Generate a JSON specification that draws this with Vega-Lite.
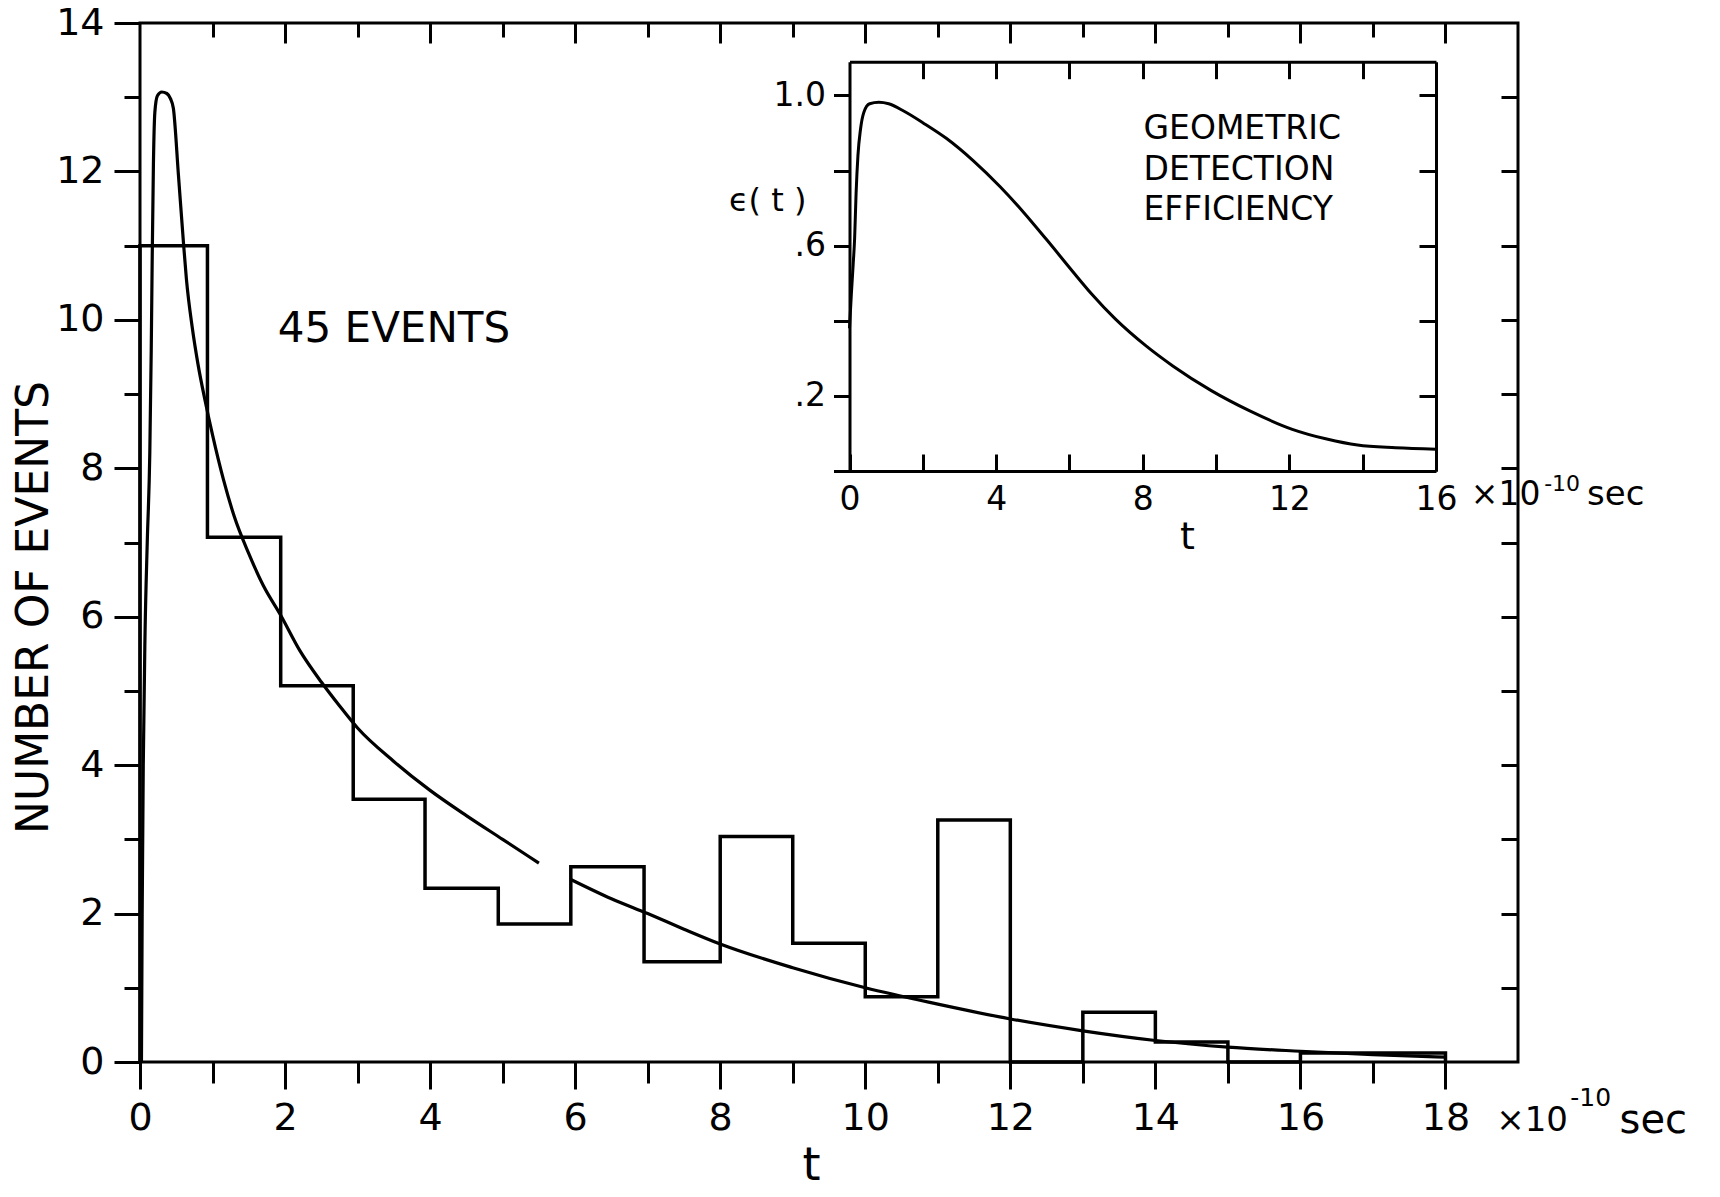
{
  "$schema": "https://vega.github.io/schema/vega-lite/v6.json",
  "width": 1378,
  "height": 1039,
  "autosize": "none",
  "padding": {"left": 140, "top": 23, "right": 202, "bottom": 135},
  "background": "white",
  "config": {
    "view": {"stroke": "black", "strokeWidth": 3},
    "font": "DejaVu Sans",
    "axis": {"grid": false, "domainColor": "black", "tickColor": "black", "labelColor": "black", "titleColor": "black", "labelFont": "DejaVu Sans", "titleFont": "DejaVu Sans", "titleFontWeight": "normal", "labelFlush": false, "labelOverlap": false, "tickWidth": 3, "domainWidth": 3},
    "text": {"font": "DejaVu Sans", "color": "black"}
  },
  "datasets": {
    "hist": [
      {"t": 0, "n": 0}, {"t": 0, "n": 11.0}, {"t": 0.93, "n": 7.07}, {"t": 1.94, "n": 5.07}, {"t": 2.94, "n": 3.54}, {"t": 3.93, "n": 2.34}, {"t": 4.94, "n": 1.86}, {"t": 5.94, "n": 2.63}, {"t": 6.95, "n": 1.35}, {"t": 8.0, "n": 3.04}, {"t": 9.0, "n": 1.6}, {"t": 10.0, "n": 0.88}, {"t": 11.0, "n": 3.26}, {"t": 12.0, "n": 0}, {"t": 13.0, "n": 0.67}, {"t": 14.0, "n": 0.27}, {"t": 15.0, "n": 0}, {"t": 16.0, "n": 0.12}, {"t": 18.0, "n": 0}
    ],
    "fit": [
      {"t": 0.02, "y": 0, "seg": "a"}, {"t": 0.03, "y": 2, "seg": "a"}, {"t": 0.045, "y": 4, "seg": "a"}, {"t": 0.07, "y": 5.8, "seg": "a"}, {"t": 0.1, "y": 7.0, "seg": "a"}, {"t": 0.135, "y": 8.2, "seg": "a"}, {"t": 0.155, "y": 9.6, "seg": "a"}, {"t": 0.168, "y": 10.8, "seg": "a"}, {"t": 0.185, "y": 12.1, "seg": "a"}, {"t": 0.205, "y": 12.8, "seg": "a"}, {"t": 0.24, "y": 13.02, "seg": "a"}, {"t": 0.3, "y": 13.07, "seg": "a"}, {"t": 0.37, "y": 13.05, "seg": "a"}, {"t": 0.42, "y": 12.98, "seg": "a"}, {"t": 0.46, "y": 12.85, "seg": "a"}, {"t": 0.53, "y": 11.95, "seg": "a"}, {"t": 0.6, "y": 11.03, "seg": "a"}, {"t": 0.64, "y": 10.55, "seg": "a"}, {"t": 0.72, "y": 9.9, "seg": "a"}, {"t": 0.8, "y": 9.4, "seg": "a"}, {"t": 0.9, "y": 8.9, "seg": "a"}, {"t": 1.0, "y": 8.45, "seg": "a"}, {"t": 1.15, "y": 7.85, "seg": "a"}, {"t": 1.3, "y": 7.35, "seg": "a"}, {"t": 1.5, "y": 6.85, "seg": "a"}, {"t": 1.7, "y": 6.42, "seg": "a"}, {"t": 1.94, "y": 6.02, "seg": "a"}, {"t": 2.2, "y": 5.55, "seg": "a"}, {"t": 2.5, "y": 5.12, "seg": "a"}, {"t": 2.75, "y": 4.8, "seg": "a"}, {"t": 3.0, "y": 4.5, "seg": "a"}, {"t": 3.5, "y": 4.05, "seg": "a"}, {"t": 4.0, "y": 3.66, "seg": "a"}, {"t": 4.5, "y": 3.32, "seg": "a"}, {"t": 5.0, "y": 3.0, "seg": "a"}, {"t": 5.5, "y": 2.68, "seg": "a"},
      {"t": 5.94, "y": 2.46, "seg": "b"}, {"t": 6.5, "y": 2.2, "seg": "b"}, {"t": 7.0, "y": 2.0, "seg": "b"}, {"t": 7.5, "y": 1.79, "seg": "b"}, {"t": 8.0, "y": 1.59, "seg": "b"}, {"t": 9.0, "y": 1.27, "seg": "b"}, {"t": 10.0, "y": 1.0, "seg": "b"}, {"t": 11.0, "y": 0.78, "seg": "b"}, {"t": 12.0, "y": 0.58, "seg": "b"}, {"t": 13.0, "y": 0.42, "seg": "b"}, {"t": 14.0, "y": 0.29, "seg": "b"}, {"t": 15.0, "y": 0.2, "seg": "b"}, {"t": 16.0, "y": 0.145, "seg": "b"}, {"t": 17.0, "y": 0.1, "seg": "b"}, {"t": 18.0, "y": 0.065, "seg": "b"}
    ],
    "eff": [
      {"t": 0.0, "eff": 0.38}, {"t": 0.05, "eff": 0.47}, {"t": 0.1, "eff": 0.55}, {"t": 0.14, "eff": 0.62}, {"t": 0.18, "eff": 0.74}, {"t": 0.23, "eff": 0.84}, {"t": 0.3, "eff": 0.91}, {"t": 0.39, "eff": 0.955}, {"t": 0.55, "eff": 0.978}, {"t": 0.8, "eff": 0.982}, {"t": 1.07, "eff": 0.978}, {"t": 1.49, "eff": 0.958}, {"t": 2.01, "eff": 0.927}, {"t": 2.64, "eff": 0.886}, {"t": 3.38, "eff": 0.826}, {"t": 4.11, "eff": 0.757}, {"t": 4.74, "eff": 0.69}, {"t": 5.37, "eff": 0.617}, {"t": 6.1, "eff": 0.53}, {"t": 6.6, "eff": 0.472}, {"t": 7.25, "eff": 0.405}, {"t": 8.09, "eff": 0.333}, {"t": 8.83, "eff": 0.279}, {"t": 9.87, "eff": 0.214}, {"t": 10.92, "eff": 0.16}, {"t": 12.08, "eff": 0.111}, {"t": 13.02, "eff": 0.085}, {"t": 13.86, "eff": 0.069}, {"t": 14.9, "eff": 0.062}, {"t": 16.0, "eff": 0.058}
    ]
  },
  "layer": [
    {
      "layer": [
        {
          "data": {"name": "hist"},
          "mark": {"type": "line", "interpolate": "step-after", "color": "black", "strokeWidth": 3.5},
          "encoding": {
            "x": {"field": "t", "type": "quantitative", "scale": {"domain": [0, 19], "nice": false, "zero": false},
              "axis": {"orient": "bottom", "values": [0,1,2,3,4,5,6,7,8,9,10,11,12,13,14,15,16,17,18], "domain": false,
                "tickSize": {"condition": {"test": "datum.value % 2 === 0", "value": 27}, "value": 21},
                "labelExpr": "datum.value % 2 === 0 ? datum.label : ''", "labelFontSize": 38, "labelPadding": 10,
                "title": "t", "titleFontSize": 46, "titleX": 671, "titleY": 117, "titleBaseline": "alphabetic", "titleAlign": "center"}},
            "y": {"field": "n", "type": "quantitative", "scale": {"domain": [0, 14], "nice": false},
              "axis": {"orient": "left", "values": [0,1,2,3,4,5,6,7,8,9,10,11,12,13,14], "domain": false,
                "tickSize": {"condition": {"test": "datum.value % 2 === 0", "value": 26}, "value": 16},
                "labelExpr": "datum.value % 2 === 0 ? datum.label : ''", "labelFontSize": 38, "labelPadding": 10,
                "title": "NUMBER OF EVENTS", "titleFontSize": 44, "titleAngle": 270, "titleX": -93, "titleY": 584, "titleAlign": "center", "titleBaseline": "alphabetic"}},
            "order": {"value": null}
          }
        },
        {
          "data": {"name": "fit"},
          "mark": {"type": "line", "color": "black", "strokeWidth": 3.2, "interpolate": "monotone"},
          "encoding": {
            "x": {"field": "t", "type": "quantitative", "axis": null},
            "y": {"field": "y", "type": "quantitative", "axis": null},
            "detail": {"field": "seg"}
          }
        },
        {
          "data": {"values": [{"note": "45 EVENTS"}]},
          "mark": {"type": "text", "fontSize": 42, "align": "left", "baseline": "alphabetic"},
          "encoding": {"x": {"datum": 1.9, "type": "quantitative", "axis": null}, "y": {"datum": 9.7, "type": "quantitative", "axis": null}, "text": {"field": "note"}}
        },
        {
          "data": {"values": [{"note": "×10"}]},
          "mark": {"type": "text", "fontSize": 34, "align": "left", "baseline": "alphabetic"},
          "encoding": {"x": {"datum": 18.7, "type": "quantitative", "axis": null}, "y": {"datum": -0.93, "type": "quantitative", "axis": null}, "text": {"field": "note"}}
        },
        {
          "data": {"values": [{"note": "-10"}]},
          "mark": {"type": "text", "fontSize": 25, "align": "left", "baseline": "alphabetic"},
          "encoding": {"x": {"datum": 19.72, "type": "quantitative", "axis": null}, "y": {"datum": -0.593, "type": "quantitative", "axis": null}, "text": {"field": "note"}}
        },
        {
          "data": {"values": [{"note": "sec"}]},
          "mark": {"type": "text", "fontSize": 40, "align": "left", "baseline": "alphabetic"},
          "encoding": {"x": {"datum": 20.4, "type": "quantitative", "axis": null}, "y": {"datum": -0.95, "type": "quantitative", "axis": null}, "text": {"field": "note"}}
        },
        {
          "data": {"name": "hist"},
          "mark": {"type": "point", "opacity": 0},
          "encoding": {
            "x": {"field": "t", "type": "quantitative",
              "axis": {"orient": "top", "values": [1,2,3,4,5,6,7,8,9,10,11,12,13,14,15,16,17,18], "domain": false, "labels": false, "title": null,
                "tickSize": {"condition": {"test": "datum.value % 2 === 0", "value": -20}, "value": -14}}},
            "y": {"field": "n", "type": "quantitative",
              "axis": {"orient": "right", "values": [1,2,3,4,5,6,7,8,9,10,11,12,13], "domain": false, "labels": false, "title": null, "tickSize": -17}}
          }
        }
      ],
      "resolve": {"axis": {"x": "independent", "y": "independent"}}
    },
    {
      "layer": [
        {
          "data": {"name": "eff"},
          "mark": {"type": "line", "color": "black", "strokeWidth": 3, "interpolate": "monotone"},
          "encoding": {
            "x": {"field": "t", "type": "quantitative", "scale": {"domain": [0, 16], "range": [709.5, 1296], "nice": false, "zero": false},
              "axis": {"orient": "bottom", "offset": -591, "values": [0,2,4,6,8,10,12,14,16], "tickSize": -17, "domain": true,
                "labelExpr": "datum.value % 4 === 0 ? datum.label : ''", "labelFontSize": 33, "labelPadding": 29, "title": null}},
            "y": {"field": "eff", "type": "quantitative", "scale": {"domain": [0, 1.09], "range": [448, 38.7], "nice": false, "zero": false},
              "axis": {"orient": "left", "offset": -709.5, "values": [0, 0.2, 0.4, 0.6, 0.8, 1.0], "tickSize": 16, "domain": true,
                "labelExpr": "datum.value == 1 ? '1.0' : datum.value == 0.6 ? '.6' : datum.value == 0.2 ? '.2' : ''", "labelFontSize": 33, "labelPadding": 8, "title": null}}
          }
        },
        {
          "data": {"name": "eff"},
          "mark": {"type": "point", "opacity": 0},
          "encoding": {
            "x": {"field": "t", "type": "quantitative",
              "axis": {"orient": "top", "offset": -38.7, "values": [2,4,6,8,10,12,14], "tickSize": -17, "domain": true, "labels": false, "title": null}},
            "y": {"field": "eff", "type": "quantitative",
              "axis": {"orient": "right", "offset": -82, "values": [0.2, 0.4, 0.6, 0.8, 1.0], "tickSize": -17, "domain": true, "labels": false, "title": null}}
          }
        },
        {
          "data": {"values": [{"note": "ϵ( t )"}]},
          "mark": {"type": "text", "fontSize": 32, "align": "left", "baseline": "middle"},
          "encoding": {"x": {"datum": -3.29, "type": "quantitative", "axis": null}, "y": {"datum": 0.72, "type": "quantitative", "axis": null}, "text": {"field": "note"}}
        },
        {
          "data": {"values": [{"note": ["GEOMETRIC", "DETECTION", "EFFICIENCY"]}]},
          "mark": {"type": "text", "fontSize": 33, "align": "left", "baseline": "alphabetic", "lineHeight": 40.5},
          "encoding": {"x": {"datum": 8.02, "type": "quantitative", "axis": null}, "y": {"datum": 0.884, "type": "quantitative", "axis": null}, "text": {"field": "note"}}
        },
        {
          "data": {"values": [{"note": "t"}]},
          "mark": {"type": "text", "fontSize": 38, "align": "center", "baseline": "alphabetic"},
          "encoding": {"x": {"datum": 9.22, "type": "quantitative", "axis": null}, "y": {"datum": -0.207, "type": "quantitative", "axis": null}, "text": {"field": "note"}}
        },
        {
          "data": {"values": [{"note": "×10"}]},
          "mark": {"type": "text", "fontSize": 33, "align": "left", "baseline": "alphabetic"},
          "encoding": {"x": {"datum": 16.95, "type": "quantitative", "axis": null}, "y": {"datum": -0.091, "type": "quantitative", "axis": null}, "text": {"field": "note"}}
        },
        {
          "data": {"values": [{"note": "-10"}]},
          "mark": {"type": "text", "fontSize": 22, "align": "left", "baseline": "alphabetic"},
          "encoding": {"x": {"datum": 18.95, "type": "quantitative", "axis": null}, "y": {"datum": -0.054, "type": "quantitative", "axis": null}, "text": {"field": "note"}}
        },
        {
          "data": {"values": [{"note": "sec"}]},
          "mark": {"type": "text", "fontSize": 34, "align": "left", "baseline": "alphabetic"},
          "encoding": {"x": {"datum": 20.12, "type": "quantitative", "axis": null}, "y": {"datum": -0.091, "type": "quantitative", "axis": null}, "text": {"field": "note"}}
        }
      ],
      "resolve": {"axis": {"x": "independent", "y": "independent"}}
    }
  ],
  "resolve": {"scale": {"x": "independent", "y": "independent"}, "axis": {"x": "independent", "y": "independent"}}
}
